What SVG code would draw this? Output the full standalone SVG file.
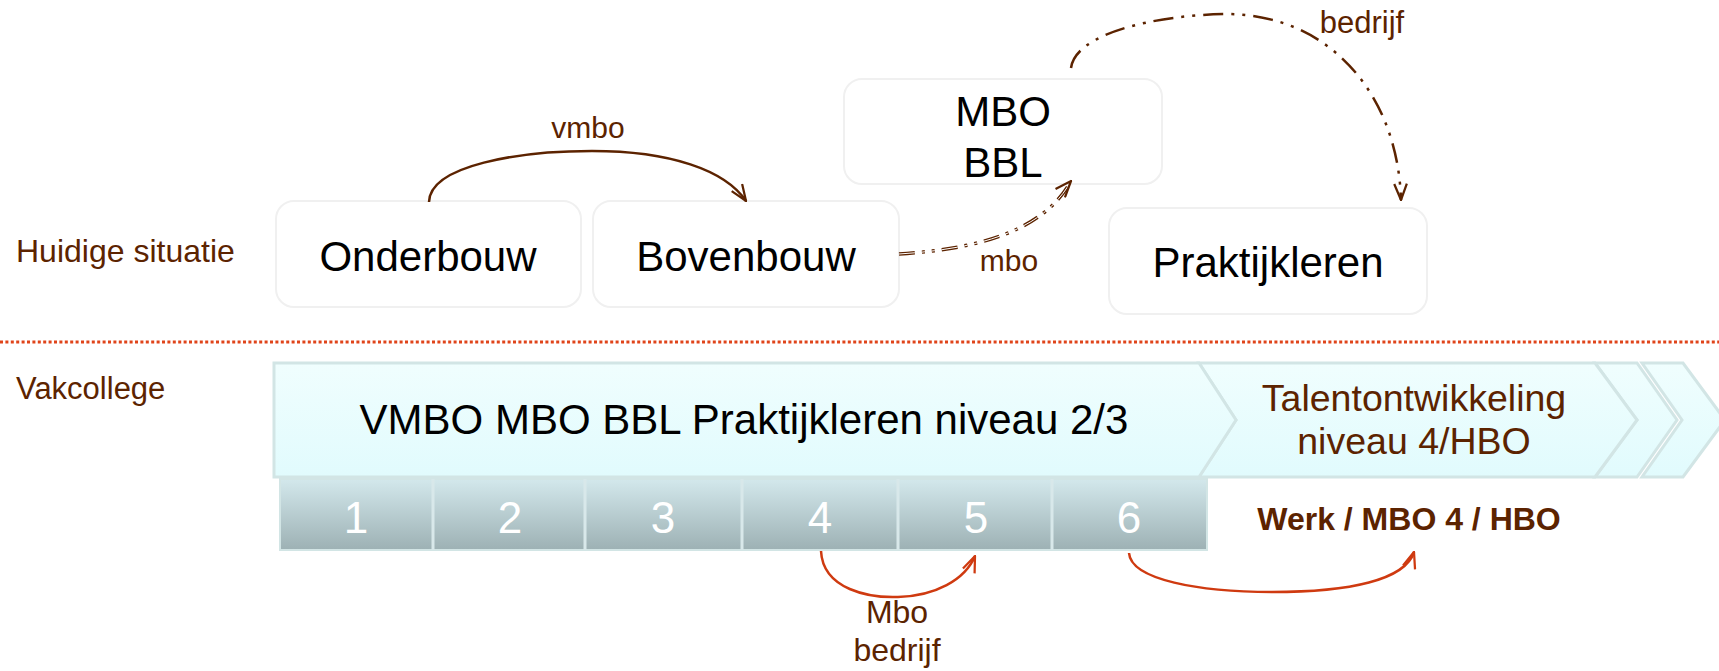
<svg xmlns="http://www.w3.org/2000/svg" width="1719" height="671" viewBox="0 0 1719 671">
<style>
.lbl{font-family:"Liberation Sans",Arial,sans-serif;fill:#5c2300}
.node rect{fill:#ffffff;stroke:#f0f0f0;stroke-width:2}
.nt{font-family:"Liberation Sans",Arial,sans-serif;font-size:42px;fill:#000;text-anchor:middle}
.num{font-family:"Liberation Sans",Arial,sans-serif;font-size:44px;fill:#ffffff;text-anchor:middle}
.brown{fill:none;stroke:#5c2300;stroke-width:2.5}
.red{fill:none;stroke:#cf3a10;stroke-width:2.5}
.chev{fill:url(#cyan);stroke:#d2e5e5;stroke-width:3}
</style>
<defs>
<linearGradient id="cyan" x1="0" y1="0" x2="0" y2="1">
<stop offset="0" stop-color="#f0fefe"/>
<stop offset="1" stop-color="#e1fbfd"/>
</linearGradient>
<linearGradient id="steel" x1="0" y1="0" x2="0" y2="1">
<stop offset="0" stop-color="#d3e8ec"/>
<stop offset="1" stop-color="#9db1b4"/>
</linearGradient>
<marker id="ab" viewBox="0 0 20 16" refX="19" refY="8" markerWidth="18" markerHeight="15" markerUnits="userSpaceOnUse" orient="auto">
<path d="M1,1 L19,8 L1,15" fill="none" stroke="#5c2300" stroke-width="2.5"/>
</marker>
<marker id="ar" viewBox="0 0 20 16" refX="19" refY="8" markerWidth="18" markerHeight="15" markerUnits="userSpaceOnUse" orient="auto">
<path d="M1,1 L19,8 L1,15" fill="none" stroke="#cf3a10" stroke-width="2.5"/>
</marker>
</defs>

<text class="lbl" x="16" y="262" font-size="32">Huidige situatie</text>
<text class="lbl" x="16" y="399" font-size="31">Vakcollege</text>

<g id="onderbouw" class="node"><rect x="276" y="201" width="305" height="106" rx="18"/><text class="nt" x="428" y="271">Onderbouw</text></g>
<g id="bovenbouw" class="node"><rect x="593" y="201" width="306" height="106" rx="18"/><text class="nt" x="746" y="271">Bovenbouw</text></g>
<g id="mbobbl" class="node"><rect x="844" y="79" width="318" height="105" rx="18"/><text class="nt" x="1003" y="126">MBO</text><text class="nt" x="1003" y="177">BBL</text></g>
<g id="praktijkleren" class="node"><rect x="1109" y="208" width="318" height="106" rx="18"/><text class="nt" x="1268" y="277">Praktijkleren</text></g>

<line x1="0" y1="342" x2="1719" y2="342" stroke="#e0441a" stroke-width="3" stroke-dasharray="3 2.4"/>

<g id="band">
<polygon class="chev" points="1642,363 1683,363 1725,420 1683,477 1642,477 1682,420"/>
<polygon class="chev" points="1595,363 1637,363 1677,420 1637,477 1595,477 1637,420"/>
<polygon class="chev" points="1199,363 1595,363 1637,420 1595,477 1199,477 1236,420"/>
<polygon class="chev" points="274,363 1199,363 1236,420 1199,477 274,477"/>
<text class="nt" x="744" y="434">VMBO MBO BBL Praktijkleren niveau 2/3</text>
<text class="lbl" x="1414" y="411" font-size="37.5" text-anchor="middle">Talentontwikkeling</text>
<text class="lbl" x="1414" y="454" font-size="37.5" text-anchor="middle">niveau 4/HBO</text>
</g>

<g id="years">
<rect x="280" y="479" width="927" height="71" fill="url(#steel)" stroke="#d2e5e5" stroke-width="2"/>
<g stroke="#d8e8ea" stroke-width="3">
<line x1="433" y1="479" x2="433" y2="550"/><line x1="585" y1="479" x2="585" y2="550"/><line x1="742" y1="479" x2="742" y2="550"/><line x1="898" y1="479" x2="898" y2="550"/><line x1="1052" y1="479" x2="1052" y2="550"/>
</g>
<text class="num" x="356" y="533">1</text>
<text class="num" x="510" y="533">2</text>
<text class="num" x="663" y="533">3</text>
<text class="num" x="820" y="533">4</text>
<text class="num" x="976" y="533">5</text>
<text class="num" x="1129" y="533">6</text>
</g>

<text class="lbl" x="1409" y="530" font-size="32" font-weight="bold" text-anchor="middle">Werk / MBO 4 / HBO</text>

<g id="connectors">
<path class="brown" d="M429,202 C430,165 520,151 592,151 C670,151 725,170 746,201" marker-end="url(#ab)"/>
<text class="lbl" x="588" y="138" font-size="30" text-anchor="middle">vmbo</text>
<path d="M899,254 C960,250 1040,238 1071,181" fill="none" stroke="#5c2300" stroke-width="3.5" stroke-dasharray="16 7 3 7 3 7"/>
<path d="M899,254 C960,250 1040,238 1071,181" fill="none" stroke="#ffffff" stroke-width="1" stroke-dasharray="16 7 3 7 3 7"/>
<path d="M1063,190 L1071,181" fill="none" stroke="none" marker-end="url(#ab)"/>
<text class="lbl" x="1009" y="271" font-size="30" text-anchor="middle">mbo</text>
<path class="brown" stroke-width="3" d="M1071,68 C1075,35 1150,15 1228,14 C1330,15 1398,95 1401,200" stroke-dasharray="20 8 3 8 3 8" marker-end="url(#ab)"/>
<text class="lbl" x="1362" y="33" font-size="31" text-anchor="middle">bedrijf</text>
<path class="red" d="M821,551 C823,590 870,598 898,597 C935,596 965,580 975,556" marker-end="url(#ar)"/>
<text class="lbl" x="897" y="623" font-size="32" text-anchor="middle">Mbo</text>
<text class="lbl" x="897" y="661" font-size="32" text-anchor="middle">bedrijf</text>
<path class="red" d="M1129,553 C1131,580 1200,592 1272,592 C1350,592 1405,580 1414,552" marker-end="url(#ar)"/>
</g>
</svg>
